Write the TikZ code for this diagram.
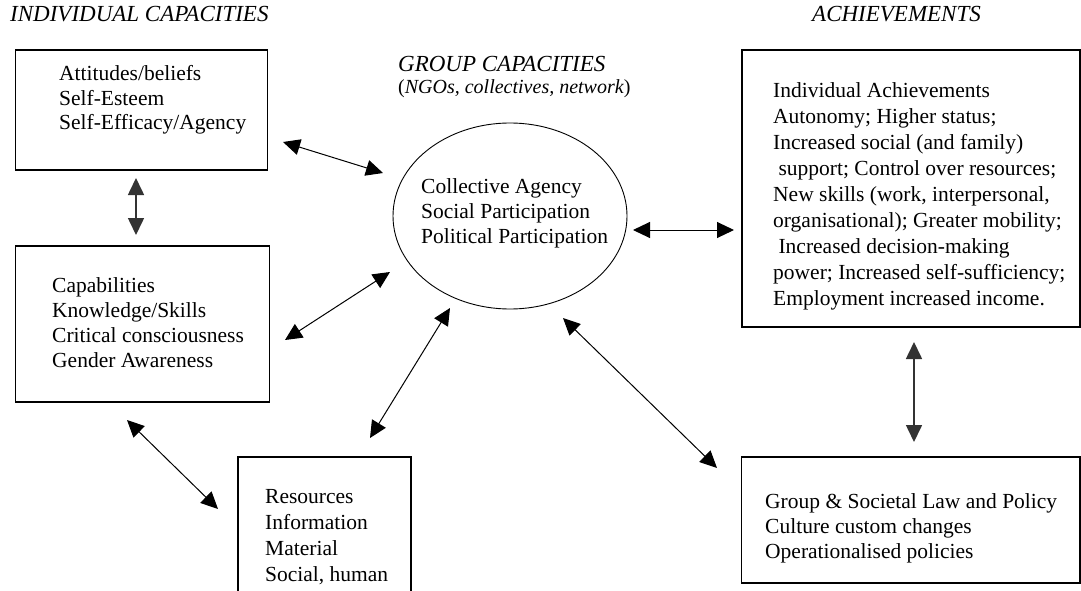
\documentclass[tikz,border=0pt]{standalone}
\usepackage{fontspec}
\setmainfont{Liberation Serif}
\usetikzlibrary{shapes.geometric, arrows.meta}

\tikzset{
  box/.style={draw, line width=1.2pt, inner sep=0pt, outer sep=0pt},
  txt/.style={align=left, anchor=base west, inner sep=0pt,
    font=\fontsize{21.5}{25}\selectfont},
  ttl/.style={align=left, anchor=base west, inner sep=0pt,
    font=\fontsize{23}{22}\selectfont\itshape},
  link/.style={{Triangle[length=17pt,width=16pt]}-{Triangle[length=17pt,width=16pt]},
    line width=1pt},
  vlink/.style={link, line width=1.6pt, draw=black!80},
}

\begin{document}
\begin{tikzpicture}[x=1pt, y=-1pt]
  \useasboundingbox (0,0) rectangle (1081,591);

  % headings (base = last line)
  \node[ttl] (indcap) at (10,22) {INDIVIDUAL CAPACITIES};
  \node[ttl] (achv) at (812,22) {ACHIEVEMENTS};
  \node[ttl] (grpcap) at (398,94)
    {GROUP CAPACITIES\\\fontsize{20}{22}\selectfont\upshape(\textit{NGOs, collectives, network})};

  % boxes
  \node[box, minimum width=252pt, minimum height=120pt] (attit) at (141.5,110) {};
  \node[box, minimum width=254pt, minimum height=156pt] (capab) at (142.5,324) {};
  \node[box, minimum width=173pt, minimum height=143pt] (resrc) at (324.5,528.5) {};
  \node[box, minimum width=338pt, minimum height=277pt] (achbox) at (911,188.5) {};
  \node[box, minimum width=338.5pt, minimum height=126pt] (lawbox) at (910.75,520) {};
  \node[draw, ellipse, line width=0.9pt, inner sep=0pt, outer sep=0pt,
    minimum width=234pt, minimum height=186pt] (grp) at (510,216) {};

  % box texts
  \node[txt, font=\fontsize{21.5}{24}\selectfont] (attittxt) at (59,129)
    {Attitudes/beliefs\\Self-Esteem\\Self-Efficacy/Agency};
  \node[txt] (capabtxt) at (52,367)
    {Capabilities\\Knowledge/Skills\\Critical consciousness\\Gender Awareness};
  \node[txt, font=\fontsize{21.5}{26}\selectfont] (resrctxt) at (265,581)
    {Resources\\Information\\Material\\Social, human};
  \node[txt] (grptxt) at (421,243)
    {Collective Agency\\Social Participation\\Political Participation};
  \node[txt, font=\fontsize{21.5}{26}\selectfont] (achtxt) at (773,305)
    {Individual Achievements\\
     Autonomy; Higher status;\\
     Increased social (and family)\\
     \hspace*{0.25em}support; Control over resources;\\
     New skills (work, interpersonal,\\
     organisational); Greater mobility;\\
     \hspace*{0.25em}Increased decision-making\\
     power; Increased self-sufficiency;\\
     Employment increased income.};
  \node[txt] (lawtxt) at (765,558)
    {Group \& Societal Law and Policy\\Culture custom changes\\Operationalised policies};

  % connectors
  \draw[link] ([shift={(15.5,32)}]attit.east) -- ([shift={(-10,-43)}]grp.west);
  \draw[vlink] ([shift={(-5.5,8)}]attit.south) -- ([shift={(-6.5,-11)}]capab.north);
  \draw[link] ([shift={(15.5,16)}]capab.east) -- ([shift={(-3,56)}]grp.west);
  \draw[link] ([shift={(-15.5,18)}]capab.south) -- ([shift={(-20,52)}]resrc.north west);
  \draw[link] ([shift={(45.5,-19)}]resrc.north) -- ([shift={(-60,-1)}]grp.south);
  \draw[link] ([shift={(6,14)}]grp.east) -- ([shift={(-8,41.5)}]achbox.west);
  \draw[link] ([shift={(53,9)}]grp.south) -- ([shift={(-24.5,11)}]lawbox.north west);
  \draw[vlink] ([shift={(3,15)}]achbox.south) -- ([shift={(3.25,-15)}]lawbox.north);
\end{tikzpicture}
\end{document}
